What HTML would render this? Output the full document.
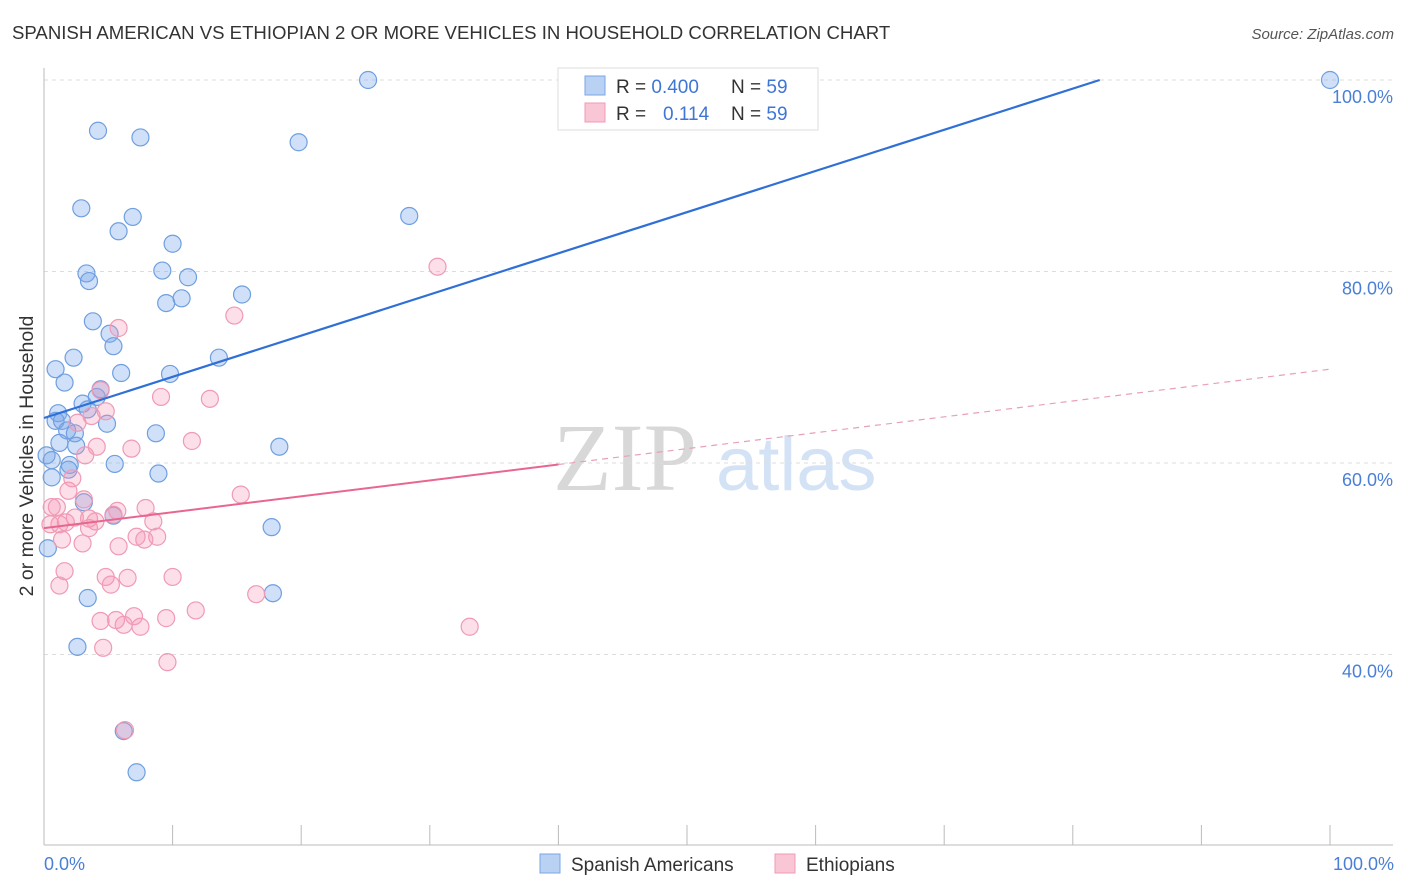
<!DOCTYPE html>
<html><head><meta charset="utf-8">
<style>
body{margin:0;background:#fff;font-family:"Liberation Sans",sans-serif;}
svg{display:block}
</style></head>
<body>
<svg id="chart" width="1406" height="892" xmlns="http://www.w3.org/2000/svg">
<text x="12" y="39" font-size="18.6" fill="#333">SPANISH AMERICAN VS ETHIOPIAN 2 OR MORE VEHICLES IN HOUSEHOLD CORRELATION CHART</text>
<text x="1394" y="39" font-size="15" fill="#555" text-anchor="end" font-style="italic">Source: ZipAtlas.com</text>
<g>
<text x="553" y="490" font-size="96" font-family="'Liberation Serif',serif" fill="#d8d8d8">ZIP</text>
<text x="716" y="490" font-size="76" fill="#d3e2f5">atlas</text>
</g>
<g id="grid"></g>
<g id="axes"></g>
<g id="pts"></g>
<g id="lines"></g>
<text transform="translate(33,456) rotate(-90)" font-size="19.5" fill="#333" text-anchor="middle">2 or more Vehicles in Household</text>
<text x="44" y="870" font-size="18" fill="#4a7fd6">0.0%</text>
<text x="1394" y="870" font-size="18" fill="#4a7fd6" text-anchor="end">100.0%</text>
<g>
<rect x="558" y="68" width="260" height="62" fill="#fff" stroke="#ddd"/>
<rect x="585" y="76" width="20" height="19" fill="#b9d2f4" stroke="#7aa6e6"/>
<rect x="585" y="103" width="20" height="19" fill="#f9c6d5" stroke="#f09ab5"/>
<text x="616" y="93" font-size="19" fill="#333">R = <tspan fill="#3f76d4">0.400</tspan><tspan x="731">N = </tspan><tspan fill="#3f76d4">59</tspan></text>
<text x="616" y="120" font-size="19" fill="#333">R = <tspan x="663" fill="#3f76d4">0.114</tspan><tspan x="731">N = </tspan><tspan fill="#3f76d4">59</tspan></text>
</g>
<g>
<rect x="540" y="854" width="20" height="19" fill="#b9d2f4" stroke="#7aa6e6"/>
<text x="571" y="871" font-size="19" fill="#333">Spanish Americans</text>
<rect x="775" y="854" width="20" height="19" fill="#f9c6d5" stroke="#f09ab5"/>
<text x="806" y="871" font-size="19" fill="#333">Ethiopians</text>
</g>
</svg>
<script>
const blueX=[25.2,100,4.2,7.5,19.8,2.9,6.9,28.4,5.8,10.0,3.3,9.2,3.5,11.2,10.7,9.5,15.4,3.8,5.1,5.4,2.3,13.6,0.9,6.0,9.8,1.6,4.4,4.1,3.0,3.4,1.1,0.9,1.4,4.9,1.8,2.4,8.7,1.2,2.5,0.2,0.6,2.0,5.5,1.9,8.9,0.6,18.3,3.1,5.4,17.7,0.3,3.4,17.8,2.6,6.2,7.2];
const blueY=[100,100,94.7,94.0,93.5,86.6,85.7,85.8,84.2,82.9,79.8,80.1,79.0,79.4,77.2,76.7,77.6,74.8,73.5,72.2,71.0,71.0,69.8,69.4,69.3,68.4,67.7,66.9,66.2,65.6,65.2,64.4,64.4,64.1,63.4,63.1,63.1,62.1,61.8,60.8,60.3,59.8,59.9,59.3,58.9,58.5,61.7,55.9,54.5,53.3,51.1,45.9,46.4,40.8,32.0,27.7];
const pinkX=[30.6,14.8,5.8,4.4,9.1,12.9,4.8,2.6,3.7,11.5,6.8,4.1,3.2,2.2,1.9,3.1,15.3,0.6,1.0,5.7,7.9,5.4,2.4,3.5,4.0,1.7,8.5,1.2,0.5,3.5,8.8,7.2,7.8,1.4,3.0,5.8,1.6,4.8,6.5,10.0,5.2,1.2,16.5,11.8,7.0,4.4,5.6,6.2,7.5,9.5,33.1,4.6,9.6,6.3];
const pinkY=[80.5,75.4,74.1,67.6,66.9,66.7,65.4,64.2,64.9,62.3,61.5,61.7,60.8,58.4,57.1,56.2,56.7,55.4,55.4,55.0,55.3,54.6,54.3,54.2,53.9,53.8,53.9,53.6,53.6,53.2,52.3,52.3,52.0,52.0,51.6,51.3,48.7,48.1,48.0,48.1,47.3,47.2,46.3,44.6,44.0,43.5,43.6,43.1,42.9,43.8,42.9,40.7,39.2,32.1];
const yTicks=[100,80,60,40];
const yTickLabels=["100.0%","80.0%","60.0%","40.0%"];
const blueTrend=[64.7,0.43];   // intercept, slope
const pinkTrend=[53.2,0.166];
const NS="http://www.w3.org/2000/svg";
const xs=v=>44+v*12.86;
const ys=v=>80+(100-v)*9.575;
function mk(tag,attrs,parent){const e=document.createElementNS(NS,tag);for(const k in attrs)e.setAttribute(k,attrs[k]);parent.appendChild(e);return e;}
const grid=document.getElementById('grid'),axes=document.getElementById('axes'),pts=document.getElementById('pts'),lines=document.getElementById('lines');
yTicks.forEach((t,i)=>{
  const l=mk('line',{x1:44,x2:1393,y1:ys(t),y2:ys(t),stroke:'#ddd','stroke-dasharray':'4,4'},grid);
  
  
  const tx=mk('text',{x:1393,y:ys(t)+23,'font-size':18,fill:'#4a7fd6','text-anchor':'end'},grid);
  tx.textContent=yTickLabels[i];
  
  
});
const ya=mk('line',{x1:44,x2:44,y1:68,y2:845,stroke:'#bbb'},axes);


const xa=mk('line',{x1:44,x2:1393,y1:845,y2:845,stroke:'#bbb'},axes);


for(let i=0;i<=10;i++){
  const t=mk('line',{x1:xs(i*10),x2:xs(i*10),y1:825,y2:845,stroke:'#bbb'},axes);
  
  
}
blueX.forEach((x,i)=>{
  const c=mk('circle',{cx:xs(x),cy:ys(blueY[i]),r:8.5,fill:'rgba(120,165,235,0.35)',stroke:'#6f9fe0','stroke-width':1.2},pts);
  
  
});
pinkX.forEach((x,i)=>{
  const c=mk('circle',{cx:xs(x),cy:ys(pinkY[i]),r:8.5,fill:'rgba(245,150,180,0.3)',stroke:'#f09ab5','stroke-width':1.2},pts);
  
  
});
const bxEnd=(100-blueTrend[0])/blueTrend[1];
const bl=mk('line',{x1:xs(0),y1:ys(blueTrend[0]),x2:xs(bxEnd),y2:ys(100),stroke:'#2f6fd6','stroke-width':2.2},lines);


const pl=mk('line',{x1:xs(0),y1:ys(pinkTrend[0]),x2:xs(40),y2:ys(pinkTrend[0]+40*pinkTrend[1]),stroke:'#e8668f','stroke-width':2},lines);


const pd=mk('line',{x1:xs(40),y1:ys(pinkTrend[0]+40*pinkTrend[1]),x2:xs(100),y2:ys(pinkTrend[0]+100*pinkTrend[1]),stroke:'#e8a0b8','stroke-width':1.2,'stroke-dasharray':'6,5'},lines);


</script>
</body></html>
